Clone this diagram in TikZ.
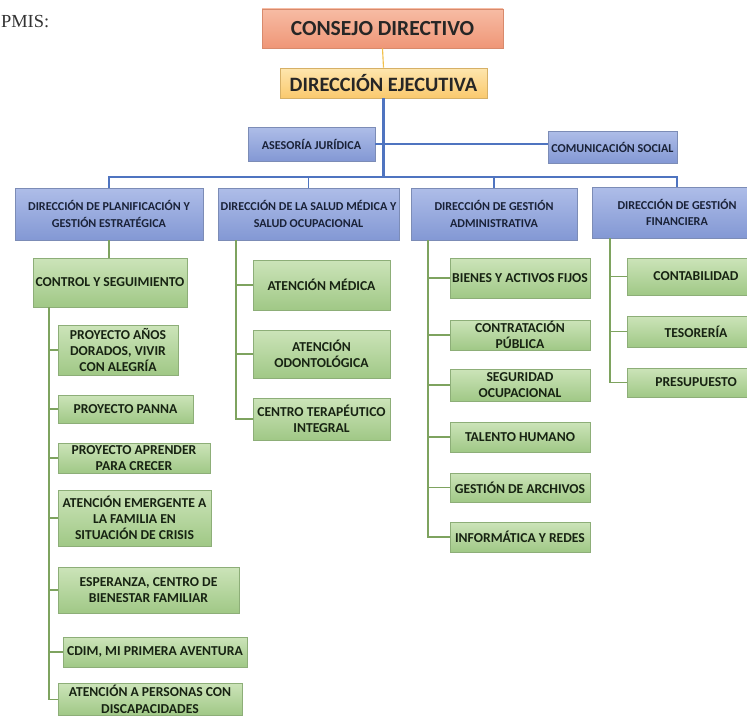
\documentclass[tikz,border=0pt]{standalone}
\usepackage{fontspec}
\setmainfont{Carlito}
\newfontfamily\pmisfont{Liberation Serif}
\usetikzlibrary{shadows}

\definecolor{salmonA}{HTML}{F7BCA4}
\definecolor{salmonB}{HTML}{EF9677}
\definecolor{salmonD}{HTML}{D88A6C}
\definecolor{amarA}{HTML}{FEE6AE}
\definecolor{amarB}{HTML}{FAC96E}
\definecolor{amarD}{HTML}{D6B067}
\definecolor{azulA}{HTML}{AEBDE8}
\definecolor{azulB}{HTML}{8398D4}
\definecolor{azulD}{HTML}{7C8CB6}
\definecolor{verdeA}{HTML}{CCE4B9}
\definecolor{verdeB}{HTML}{A0C886}
\definecolor{verdeD}{HTML}{8DAE78}
\definecolor{txtazul}{HTML}{1A2238}
\definecolor{txtverde}{HTML}{172312}
\definecolor{lineaazul}{HTML}{4F74C0}
\definecolor{lineaamar}{HTML}{F2C04A}
\definecolor{lineaverde}{HTML}{7EA35F}

\tikzset{
  caja/.style={rectangle, inner sep=0pt, align=center,
    drop shadow={opacity=0.22, shadow xshift=0.8pt, shadow yshift=-0.9pt}},
  cajaroja/.style={caja, draw=salmonD, top color=salmonA, bottom color=salmonB,
    text=black!85, font=\fontsize{15.3}{18}\selectfont\bfseries},
  cajaamar/.style={caja, draw=amarD, top color=amarA, bottom color=amarB,
    text=black!85, font=\fontsize{14.5}{17}\selectfont\bfseries},
  cajaazul/.style={caja, draw=azulD, top color=azulA, bottom color=azulB,
    text=txtazul, font=\fontsize{8.6}{11.9}\selectfont\bfseries},
  cajaverde/.style={caja, draw=verdeD, top color=verdeA, bottom color=verdeB,
    text=txtverde, font=\fontsize{9.7}{11.6}\selectfont\bfseries},
  ligaazul/.style={draw=lineaazul, line width=0.8pt},
  ligaverde/.style={draw=lineaverde, line width=0.8pt}
}

\begin{document}
\begin{tikzpicture}[y=-1cm]
\useasboundingbox (0,0) rectangle (18.675,17.925);
\node[anchor=base west, inner sep=0pt, font=\pmisfont\fontsize{13.1}{15}\selectfont, text=black!80] (pmis) at (0.02,0.675) {PMIS:};

\node[cajaroja, minimum width=6.025cm, minimum height=0.975cm] (cd) at (9.5625,0.7125) {CONSEJO DIRECTIVO};
\node[cajaamar, minimum width=5.175cm, minimum height=0.75cm] (de) at (9.5875,2.075) {DIRECCIÓN EJECUTIVA};
\node[cajaazul, minimum width=3.175cm, minimum height=0.85cm] (aj) at (7.7875,3.6) {ASESORÍA JURÍDICA};
\node[cajaazul, minimum width=3.225cm, minimum height=0.8cm] (cs) at (15.3125,3.675) {COMUNICACIÓN SOCIAL};

\node[cajaazul, minimum width=4.7cm, minimum height=1.3cm] (dp) at (2.725,5.35) {DIRECCIÓN DE PLANIFICACIÓN Y\\GESTIÓN ESTRATÉGICA};
\node[cajaazul, minimum width=4.525cm, minimum height=1.3cm] (ds) at (7.7125,5.35) {DIRECCIÓN DE LA SALUD MÉDICA Y\\SALUD OCUPACIONAL};
\node[cajaazul, minimum width=4.15cm, minimum height=1.3cm] (da) at (12.35,5.35) {DIRECCIÓN DE GESTIÓN\\ADMINISTRATIVA};
\node[cajaazul, minimum width=4.25cm, minimum height=1.275cm] (df) at (16.925,5.3125) {DIRECCIÓN DE GESTIÓN\\FINANCIERA};

\node[cajaverde, minimum width=3.85cm, minimum height=1.225cm] (cys) at (2.75,7.0625) {CONTROL Y SEGUIMIENTO};
\node[cajaverde, minimum width=3.0cm, minimum height=1.25cm] (p1) at (2.95,8.75) {PROYECTO AÑOS\\DORADOS, VIVIR\\CON ALEGRÍA};
\node[cajaverde, minimum width=3.375cm, minimum height=0.7cm] (p2) at (3.1375,10.225) {PROYECTO PANNA};
\node[cajaverde, minimum width=3.8cm, minimum height=0.75cm] (p3) at (3.35,11.45) {PROYECTO APRENDER\\PARA CRECER};
\node[cajaverde, minimum width=3.825cm, minimum height=1.4cm] (p4) at (3.3625,12.95) {ATENCIÓN EMERGENTE A\\LA FAMILIA EN\\SITUACIÓN DE CRISIS};
\node[cajaverde, minimum width=4.525cm, minimum height=1.15cm] (p5) at (3.7125,14.75) {ESPERANZA, CENTRO DE\\BIENESTAR FAMILIAR};
\node[cajaverde, minimum width=4.6cm, minimum height=0.75cm] (p6) at (3.875,16.3) {CDIM, MI PRIMERA AVENTURA};
\node[cajaverde, minimum width=4.6cm, minimum height=0.8cm] (p7) at (3.75,17.48) {ATENCIÓN A PERSONAS CON\\DISCAPACIDADES};

\node[cajaverde, minimum width=3.425cm, minimum height=1.25cm] (am) at (8.0375,7.125) {ATENCIÓN MÉDICA};
\node[cajaverde, minimum width=3.425cm, minimum height=1.2cm] (ao) at (8.0375,8.85) {ATENCIÓN\\ODONTOLÓGICA};
\node[cajaverde, minimum width=3.425cm, minimum height=1.05cm] (ct) at (8.0375,10.475) {CENTRO TERAPÉUTICO\\INTEGRAL};

\node[cajaverde, minimum width=3.5cm, minimum height=1.0cm] (bi) at (13.0,6.95) {BIENES Y ACTIVOS FIJOS};
\node[cajaverde, minimum width=3.5cm, minimum height=0.75cm] (cp) at (13.0,8.375) {CONTRATACIÓN\\PÚBLICA};
\node[cajaverde, minimum width=3.5cm, minimum height=0.8cm] (so) at (13.0,9.625) {SEGURIDAD\\OCUPACIONAL};
\node[cajaverde, minimum width=3.5cm, minimum height=0.75cm] (th) at (13.0,10.925) {TALENTO HUMANO};
\node[cajaverde, minimum width=3.5cm, minimum height=0.725cm] (ga) at (13.0,12.1875) {GESTIÓN DE ARCHIVOS};
\node[cajaverde, minimum width=3.5cm, minimum height=0.75cm] (ir) at (13.0,13.425) {INFORMÁTICA Y REDES};

\node[cajaverde, minimum width=3.45cm, minimum height=0.925cm] (co) at (17.4,6.9125) {CONTABILIDAD};
\node[cajaverde, minimum width=3.45cm, minimum height=0.775cm] (te) at (17.4,8.2875) {TESORERÍA};
\node[cajaverde, minimum width=3.45cm, minimum height=0.725cm] (pr) at (17.4,9.5625) {PRESUPUESTO};

\coordinate (bus) at (9.6,4.425);
\coordinate (t1) at (1.225,7.675);
\coordinate (t2) at (5.9,6.0);
\coordinate (t3) at (10.7,6.0);
\coordinate (t4) at (15.25,5.95);

\draw[draw=lineaamar, line width=0.8pt] (cd.south) -- (de.north);
\draw[ligaazul] (aj.east) -- (aj.east -| cs.west);
\draw[ligaazul] (dp.north) -- (dp.north |- bus) -| (df.north);
\draw[ligaazul] (ds.north) -- (ds.north |- bus);
\draw[ligaazul] (da.north) -- (da.north |- bus);
\draw[draw=lineaazul, line width=1.5pt] (de.south) -- (de.south |- bus);

\draw[ligaverde] (dp.south) -- (dp.south |- cys.north);
\foreach \n in {p1,p2,p3,p4,p5,p6,p7} \draw[ligaverde] (t1) |- (\n.west);
\foreach \n in {am,ao,ct} \draw[ligaverde] (t2) |- (\n.west);
\foreach \n in {bi,cp,so,th,ga,ir} \draw[ligaverde] (t3) |- (\n.west);
\foreach \n in {co,te,pr} \draw[ligaverde] (t4) |- (\n.west);

\end{tikzpicture}
\end{document}
